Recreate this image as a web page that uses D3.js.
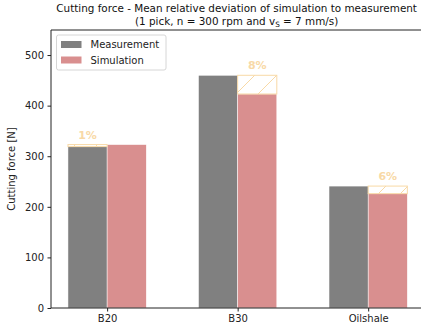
<!DOCTYPE html>
<html>
<head>
<meta charset="utf-8">
<script src="https://cdn.jsdelivr.net/npm/d3@7"></script>
<style>
  html, body { margin: 0; padding: 0; background: #fff; }
  svg { display: block; font-family: "DejaVu Sans", sans-serif; }
</style>
</head>
<body>
<svg id="chart" width="421" height="332"></svg>
<script>
// Cutting force per rock type: measured vs simulated mean values [N]
const categories = ["B20", "B30", "Oilshale"];
const measurement = [319, 460, 241];
const simulation = [323, 423, 226];
const deviationLabels = ["1%", "8%", "6%"];
const yTicks = [0, 100, 200, 300, 400, 500];

const W = 421, H = 332;
const margin = { left: 51, top: 30, bottom: 308 };
const axisRight = 424.3;

const svg = d3.select("#chart");

// Hatch pattern for the deviation boxes
const defs = svg.append("defs");
const pat = defs.append("pattern")
  .attr("id", "hatch")
  .attr("patternUnits", "userSpaceOnUse")
  .attr("width", 22).attr("height", 22);
pat.append("path")
  .attr("d", "M-2,24 L24,-2 M-13,13 L13,-13 M9,35 L35,9")
  .attr("stroke", "#f8d9a6").attr("stroke-width", 1);

const x = d3.scaleLinear().domain([-0.43, 2.43]).range([margin.left, axisRight]);
const y = d3.scaleLinear().domain([0, 549.5]).range([margin.bottom, margin.top]);
const barW = 0.3;
const bw = x(barW) - x(0);

const g = svg.append("g");

// Measurement bars (left of each category)
g.selectAll(".meas").data(measurement).join("rect")
  .attr("x", (d, i) => x(i - barW))
  .attr("y", d => y(d))
  .attr("width", bw)
  .attr("height", d => y(0) - y(d))
  .attr("fill", "#808080")
  .attr("stroke", "#fff").attr("stroke-width", 0.5);

// Simulation bars (right of each category)
g.selectAll(".sim").data(simulation).join("rect")
  .attr("x", (d, i) => x(i))
  .attr("y", d => y(d))
  .attr("width", bw)
  .attr("height", d => y(0) - y(d))
  .attr("fill", "#d98f8f")
  .attr("stroke", "#fff").attr("stroke-width", 0.5);

// Deviation boxes: placed on the lower bar, spanning up to the higher bar
const dev = categories.map((c, i) => {
  const m = measurement[i], s = simulation[i];
  const lowIsMeas = m < s;
  return {
    x0: lowIsMeas ? i - barW : i,
    lo: Math.min(m, s),
    hi: Math.max(m, s),
    label: deviationLabels[i]
  };
});

g.selectAll(".dev").data(dev).join("rect")
  .attr("x", d => x(d.x0))
  .attr("y", d => y(d.hi))
  .attr("width", bw)
  .attr("height", d => y(d.lo) - y(d.hi))
  .attr("fill", "url(#hatch)")
  .attr("stroke", "#f8d9a6").attr("stroke-width", 1);

g.selectAll(".devlabel").data(dev).join("text")
  .attr("x", d => x(d.x0 + barW / 2))
  .attr("y", d => y(d.hi) - 6)
  .attr("text-anchor", "middle")
  .attr("font-size", 11)
  .attr("font-weight", "bold")
  .attr("fill", "#f8d9a6")
  .text(d => d.label);

// Axes
const yAxis = d3.axisLeft(y).tickValues(yTicks).tickSize(3.5).tickPadding(3.5);
const ya = svg.append("g").attr("transform", `translate(${margin.left},0)`).call(yAxis);
ya.select(".domain").attr("d", `M0,${margin.top}V${margin.bottom}`).attr("stroke", "#222");
ya.selectAll("text").attr("font-size", 10).attr("fill", "#222").attr("font-family", "DejaVu Sans");
ya.selectAll("line").attr("stroke", "#222");

const xAxis = d3.axisBottom(x).tickValues([0, 1, 2]).tickFormat(i => categories[i]).tickSize(3.5).tickPadding(3.5);
const xa = svg.append("g").attr("transform", `translate(0,${margin.bottom})`).call(xAxis);
xa.select(".domain").attr("d", `M${margin.left},0H${axisRight}`).attr("stroke", "#222");
xa.selectAll("text").attr("font-size", 10).attr("fill", "#222").attr("font-family", "DejaVu Sans");
xa.selectAll("line").attr("stroke", "#222");

// Top spine
svg.append("line")
  .attr("x1", margin.left).attr("x2", axisRight)
  .attr("y1", margin.top).attr("y2", margin.top)
  .attr("stroke", "#222");

// Y label
svg.append("text")
  .attr("transform", `translate(15,${(margin.top + margin.bottom) / 2}) rotate(-90)`)
  .attr("text-anchor", "middle")
  .attr("font-size", 10)
  .attr("fill", "#222")
  .text("Cutting force [N]");

// Title
const cx = (margin.left + axisRight) / 2;
svg.append("text")
  .attr("x", cx - 1).attr("y", 12)
  .attr("text-anchor", "middle").attr("font-size", 10.4).attr("fill", "#111")
  .text("Cutting force - Mean relative deviation of simulation to measurement");
const t2 = svg.append("text")
  .attr("x", cx - 1).attr("y", 25)
  .attr("text-anchor", "middle").attr("font-size", 10.4).attr("fill", "#111");
t2.append("tspan").text("(1 pick, n = 300 rpm and v");
t2.append("tspan").attr("font-size", 7.3).attr("dy", 2).text("S");
t2.append("tspan").attr("dy", -2).text(" = 7 mm/s)");

// Legend
const leg = svg.append("g");
leg.append("rect")
  .attr("x", 56.5).attr("y", 35).attr("width", 109.5).attr("height", 35)
  .attr("rx", 2).attr("fill", "#fff").attr("fill-opacity", 0.8)
  .attr("stroke", "#d6d6d6");
const legItems = [["Measurement", "#808080"], ["Simulation", "#d98f8f"]];
legItems.forEach(([name, col], i) => {
  leg.append("rect").attr("x", 61).attr("y", 41 + i * 15.5).attr("width", 20.5).attr("height", 7)
    .attr("fill", col);
  leg.append("text").attr("x", 90.5).attr("y", 48 + i * 15.5)
    .attr("font-size", 10).attr("fill", "#222").text(name);
});
</script>
</body>
</html>
